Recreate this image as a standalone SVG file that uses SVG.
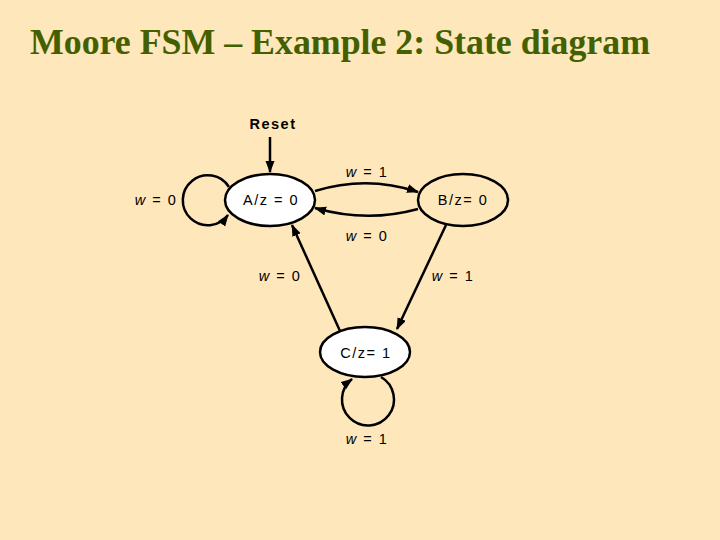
<svg xmlns="http://www.w3.org/2000/svg" width="720" height="540" viewBox="0 0 720 540">
<style>
.title{font-family:"Liberation Serif","Times New Roman",serif;font-weight:bold;font-size:36px;fill:#436000}
.lbl{font-family:"Liberation Sans",Arial,sans-serif;font-size:14.5px;fill:#000;letter-spacing:1.5px;text-anchor:middle}
.st{stroke:#000;stroke-width:2.5}
.edge{fill:none;stroke:#000;stroke-width:2.5;marker-end:url(#ah)}
</style>
<defs>
<marker id="ah" markerUnits="userSpaceOnUse" markerWidth="12" markerHeight="10" refX="11" refY="4.5" orient="auto">
<path d="M0,0 L12,4.5 L0,9 z" fill="#000"/>
</marker>
</defs>
<rect width="720" height="540" fill="#FEE7BB"/>
<text class="title" x="30" y="54" textLength="620" lengthAdjust="spacingAndGlyphs">Moore FSM – Example 2: State diagram</text>
<g id="connectors">
<path class="edge" d="M270,137 L270,172"/>
<path class="edge" d="M229,187 A25 25 0 1 0 228,215"/>
<path class="edge" d="M315,191 Q367,175 418,192"/>
<path class="edge" d="M418,209 Q367,223 315,208"/>
<path class="edge" d="M340,331 L292,225"/>
<path class="edge" d="M446,225 L397,329"/>
<path class="edge" d="M381,377 A26 26 0 1 1 352,379"/>
</g>
<g id="labels">
<text class="lbl" x="273" y="129" font-weight="bold" letter-spacing="0">Reset</text>
<text class="lbl" x="156" y="205"><tspan font-style="italic">w</tspan> = 0</text>
<text class="lbl" x="367" y="177"><tspan font-style="italic">w</tspan> = 1</text>
<text class="lbl" x="367" y="241"><tspan font-style="italic">w</tspan> = 0</text>
<text class="lbl" x="280" y="281"><tspan font-style="italic">w</tspan> = 0</text>
<text class="lbl" x="453" y="281"><tspan font-style="italic">w</tspan> = 1</text>
<text class="lbl" x="367" y="444"><tspan font-style="italic">w</tspan> = 1</text>
</g>
<g id="stateA">
<ellipse class="st" cx="270" cy="200" rx="45" ry="26" fill="#fff"/>
<text class="lbl" x="271" y="205">A/z = 0</text>
</g>
<g id="stateB">
<ellipse class="st" cx="463" cy="200" rx="45" ry="26" fill="#FEE7BB"/>
<text class="lbl" x="463" y="205">B/z= 0</text>
</g>
<g id="stateC">
<ellipse class="st" cx="365" cy="352" rx="45" ry="25" fill="#fff"/>
<text class="lbl" x="366" y="358">C/z= 1</text>
</g>
</svg>
